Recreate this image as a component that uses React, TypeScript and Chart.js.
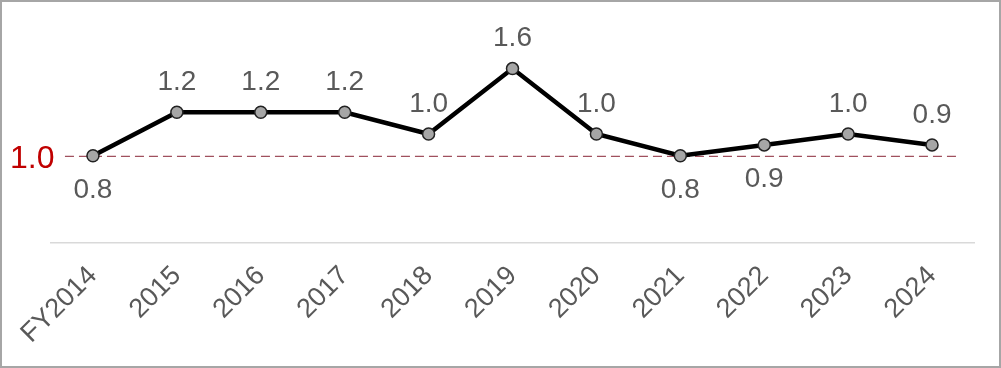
import React, { useEffect, useRef } from "react";
import { Chart, registerables } from "chart.js";

Chart.register(...registerables);

const categories = ["FY2014", "2015", "2016", "2017", "2018", "2019", "2020", "2021", "2022", "2023", "2024"];
const values = [0.8, 1.2, 1.2, 1.2, 1.0, 1.6, 1.0, 0.8, 0.9, 1.0, 0.9];
const labelsBelow = [true, false, false, false, false, false, false, true, true, false, false];
const referenceValue = 0.8;
const referenceLabel = "1.0";

const FONT = "'Liberation Sans', Arial, sans-serif";

const overlayPlugin = {
  id: "overlay",
  beforeDatasetsDraw(chart: any) {
    const { ctx, scales } = chart;
    const y = scales.y.getPixelForValue(referenceValue);
    const x0 = scales.x.getPixelForValue(0) - 28;
    const x1 = scales.x.getPixelForValue(values.length - 1) + 28;
    ctx.save();
    ctx.strokeStyle = "#a0505e";
    ctx.lineWidth = 1.3;
    ctx.setLineDash([9, 5]);
    ctx.beginPath();
    ctx.moveTo(x0, y + 0.5);
    ctx.lineTo(x1, y + 0.5);
    ctx.stroke();
    ctx.setLineDash([]);
    ctx.fillStyle = "#c00000";
    ctx.font = `32px ${FONT}`;
    ctx.textAlign = "left";
    ctx.textBaseline = "middle";
    ctx.fillText(referenceLabel, 8, y + 3);
    ctx.restore();
  },
  afterDatasetsDraw(chart: any) {
    const { ctx } = chart;
    const meta = chart.getDatasetMeta(0);
    ctx.save();
    ctx.fillStyle = "#595959";
    ctx.font = `28px ${FONT}`;
    ctx.textAlign = "center";
    ctx.textBaseline = "middle";
    meta.data.forEach((pt: any, i: number) => {
      const dy = labelsBelow[i] ? 34 : -30;
      ctx.fillText(values[i].toFixed(1), pt.x, pt.y + dy);
    });
    ctx.restore();
  },
};

export default function App() {
  const ref = useRef<HTMLCanvasElement>(null);
  useEffect(() => {
    const chart = new Chart(ref.current!, {
      type: "line",
      data: {
        labels: categories,
        datasets: [
          {
            data: values,
            borderColor: "#000000",
            borderWidth: 4.5,
            pointRadius: 6,
            pointBackgroundColor: "#a6a6a6",
            pointBorderColor: "#222222",
            pointBorderWidth: 1.5,
            tension: 0,
          },
        ],
      },
      options: {
        animation: false,
        responsive: true,
        maintainAspectRatio: false,
        layout: { padding: { left: 49, right: 25, top: 23, bottom: 0 } },
        plugins: { legend: { display: false }, tooltip: { enabled: false } },
        scales: {
          x: {
            offset: true,
            grid: { display: false, drawTicks: false },
            border: { display: true, color: "#d9d9d9", width: 1.5 },
            ticks: {
              color: "#595959",
              font: { family: FONT, size: 27 },
              minRotation: 45,
              maxRotation: 45,
              padding: 17,
              autoSkip: false,
            },
            afterFit: (scale: any) => {
              scale.height = 123;
            },
          },
          y: {
            display: false,
            min: 0,
            max: 2,
          },
        },
      },
      plugins: [overlayPlugin],
    });
    return () => chart.destroy();
  }, []);
  return (
    <div
      style={{
        position: "fixed",
        left: 0,
        top: 0,
        width: 1001,
        height: 368,
        boxSizing: "border-box",
        border: "2px solid #a6a6a6",
        background: "#fff",
      }}
    >
      <div style={{ position: "relative", width: "100%", height: "100%" }}>
        <canvas ref={ref} />
      </div>
    </div>
  );
}
